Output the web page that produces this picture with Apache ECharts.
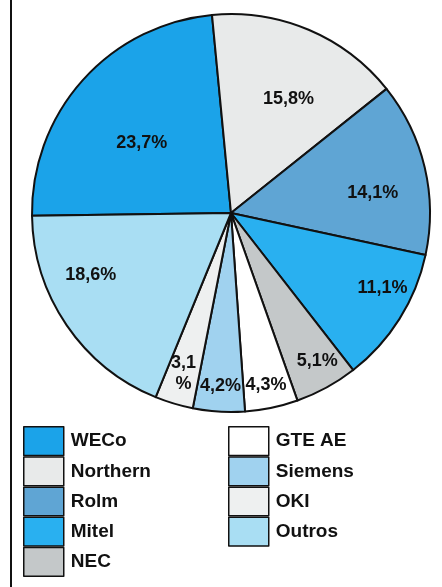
<!DOCTYPE html>
<html>
<head>
<meta charset="utf-8">
<script src="https://cdn.jsdelivr.net/npm/echarts@6/dist/echarts.min.js"></script>
<style>
  html, body { margin: 0; padding: 0; background: #fff; }
  #chart { width: 442px; height: 587px; }
</style>
</head>
<body>
<div id="chart"></div>
<script>
// market share, clockwise from the WECo slice
const names = ['WECo', 'Northern', 'Rolm', 'Mitel', 'NEC', 'GTE AE', 'Siemens', 'OKI', 'Outros']
const values = [23.7, 15.8, 14.1, 11.1, 5.1, 4.3, 4.2, 3.1, 18.6]
const labels = ['23,7%', '15,8%', '14,1%', '11,1%', '5,1%', '4,3%', '4,2%', '3,1\n%', '18,6%']
const colors = ['#1ba3e9', '#e8eaea', '#5fa5d4', '#29b0f0', '#c4c8c9', '#ffffff', '#a0d2ef', '#eef0f0', '#a9def3']

// where each label sits: angle (deg, ccw from 3 o'clock) and fraction of radius
const labelAngle = [141.8, 63.2, 8.1, -26.4, -59.7, -78.5, -93.5, -106.5, -156.3]
const labelRadius = [0.57, 0.64, 0.72, 0.85, 0.86, 0.88, 0.87, 0.84, 0.77]

const cx = 231
const cy = 213
const r = 199
const startAngle = 180.8

const chart = echarts.init(document.getElementById('chart'))

function labelPos(i) {
  const rad = labelAngle[i] * Math.PI / 180
  const d = labelRadius[i] * r
  return { x: cx + d * Math.cos(rad), y: cy - d * Math.sin(rad) }
}

const legendText = {
  fontFamily: 'Liberation Sans, Arial, sans-serif',
  fontWeight: 'bold',
  fontSize: 19,
  color: '#111',
  padding: [0, 0, 0, 2]
}

const legendBase = {
  orient: 'vertical',
  top: 426,
  padding: 0,
  itemWidth: 40,
  itemHeight: 28.7,
  itemGap: 0,
  icon: 'rect',
  itemStyle: { borderColor: '#111', borderWidth: 1.5 },
  textStyle: legendText
}

chart.setOption({
  animation: false,
  legend: [
    Object.assign({}, legendBase, { left: 23, data: names.slice(0, 5) }),
    Object.assign({}, legendBase, { left: 228, data: names.slice(5) })
  ],
  graphic: [{
    type: 'line',
    shape: { x1: 11, y1: 0, x2: 11, y2: 587 },
    style: { stroke: '#111', lineWidth: 2 }
  }],
  series: [{
    type: 'pie',
    center: [cx, cy],
    radius: [0, r],
    startAngle: startAngle,
    clockwise: true,
    avoidLabelOverlap: false,
    itemStyle: { borderColor: '#111', borderWidth: 2 },
    label: {
      show: true,
      position: 'inside',
      fontFamily: 'Liberation Sans, Arial, sans-serif',
      fontWeight: 'bold',
      fontSize: 18,
      lineHeight: 21,
      color: '#111',
      formatter: p => labels[p.dataIndex]
    },
    labelLine: { show: false },
    labelLayout: p => labelPos(p.dataIndex),
    emphasis: { disabled: true },
    data: names.map((n, i) => ({
      name: n,
      value: values[i],
      itemStyle: { color: colors[i] }
    }))
  }]
})
</script>
</body>
</html>
